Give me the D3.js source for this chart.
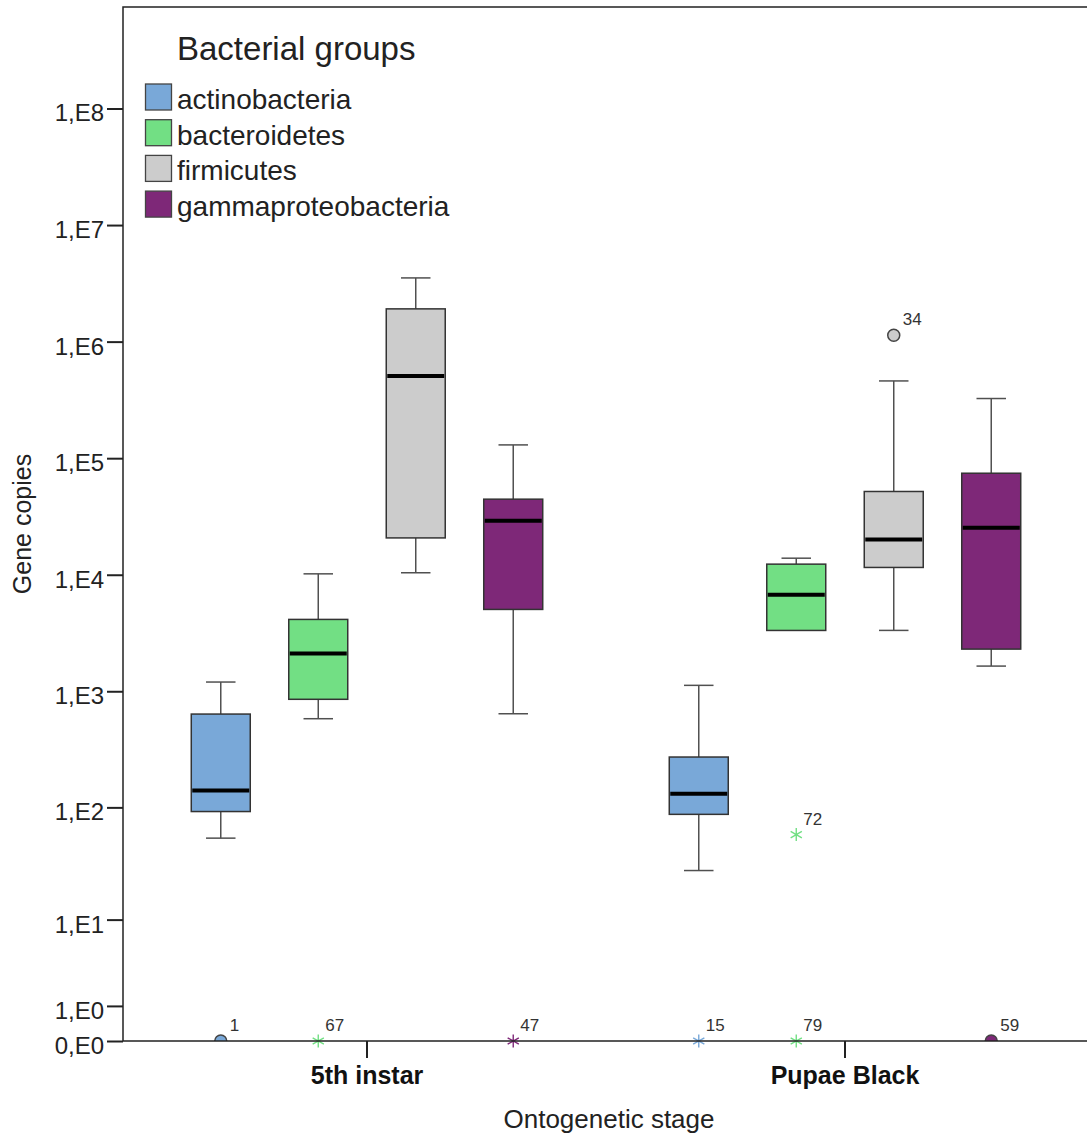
<!DOCTYPE html>
<html><head><meta charset="utf-8">
<script src="https://cdn.jsdelivr.net/npm/d3@7"></script>
<style>
body{margin:0;background:#fff}
text{font-family:"Liberation Sans",Arial,sans-serif}
</style>
</head><body><svg id="c" width="1087" height="1135"></svg>
<script>
// ---------- data ----------
const stages = ["5th instar", "Pupae Black"];
const groups = ["actinobacteria", "bacteroidetes", "firmicutes", "gammaproteobacteria"];
const groupColors = ["#79a8d8", "#72df84", "#cccccc", "#7e2878"];
// box statistics, indexed [group][stage]
const whiskerLow  = [[54, 28], [581, 3327], [10400, 3330], [641, 1645]];
const q1          = [[92, 87], [853, 3327], [20700, 11550], [5040, 2301]];
const median      = [[140, 131], [2113, 6726], [508000, 20100], [29000, 25300]];
const q3          = [[637, 272], [4137, 12330], [1910000, 51800], [44500, 74300]];
const whiskerHigh = [[1200, 1124], [10180, 13870], [3520000, 460000], [130000, 325000]];
// outliers / extremes
const outlierStage = [0, 0, 0, 1, 1, 1, 1, 1];
const outlierGroup = [0, 1, 3, 0, 1, 1, 2, 3];
const outlierValue = [0, 0, 0, 0, 0, 58, 1135000, 0];
const outlierLabel = ["1", "67", "47", "15", "79", "72", "34", "59"];
const outlierKind  = ["circle", "star", "star", "star", "star", "star", "circle", "circle"];
// axis ticks
const yTickValues = [0, 1, 10, 100, 1e3, 1e4, 1e5, 1e6, 1e7, 1e8];
const yTickLabels = ["0,E0", "1,E0", "1,E1", "1,E2", "1,E3", "1,E4", "1,E5", "1,E6", "1,E7", "1,E8"];
const yTitle = "Gene copies";
const xTitle = "Ontogenetic stage";
const legendTitle = "Bacterial groups";

// ---------- layout ----------
const W = 1087, H = 1135;
const plotL = 123, plotT = 7, plotR = 1087, plotB = 1041;
const svg = d3.select("#c");

const y = d3.scaleSymlog().constant(1).domain([0, 1e8]).range([plotB, 108.5]);
const x0 = d3.scaleBand().domain(stages).range([128, 1084]);
const x1 = d3.scaleBand().domain(groups).range([0, x0.bandwidth()])
  .paddingInner(0.395).paddingOuter(0.649);
const bw = x1.bandwidth();
const cx = (s, g) => x0(stages[s]) + x1(groups[g]) + bw / 2;

svg.append("defs").append("clipPath").attr("id", "plotclip")
  .append("rect").attr("x", plotL).attr("y", plotT)
  .attr("width", plotR - plotL).attr("height", plotB - plotT);

// ---------- boxes ----------
const boxData = [];
groups.forEach((g, gi) => stages.forEach((s, si) => boxData.push({gi, si})));
const boxes = svg.append("g").selectAll("g").data(boxData).join("g");
const whiskerColor = "#505050";
boxes.append("line")
  .attr("x1", d => cx(d.si, d.gi)).attr("x2", d => cx(d.si, d.gi))
  .attr("y1", d => y(whiskerHigh[d.gi][d.si])).attr("y2", d => y(q3[d.gi][d.si]))
  .attr("stroke", whiskerColor).attr("stroke-width", 1.5);
boxes.append("line")
  .attr("x1", d => cx(d.si, d.gi)).attr("x2", d => cx(d.si, d.gi))
  .attr("y1", d => y(q1[d.gi][d.si])).attr("y2", d => y(whiskerLow[d.gi][d.si]))
  .attr("stroke", whiskerColor).attr("stroke-width", 1.5);
boxes.append("line")
  .attr("x1", d => cx(d.si, d.gi) - bw / 4).attr("x2", d => cx(d.si, d.gi) + bw / 4)
  .attr("y1", d => y(whiskerHigh[d.gi][d.si])).attr("y2", d => y(whiskerHigh[d.gi][d.si]))
  .attr("stroke", whiskerColor).attr("stroke-width", 1.5);
boxes.filter(d => whiskerLow[d.gi][d.si] < q1[d.gi][d.si]).append("line")
  .attr("x1", d => cx(d.si, d.gi) - bw / 4).attr("x2", d => cx(d.si, d.gi) + bw / 4)
  .attr("y1", d => y(whiskerLow[d.gi][d.si])).attr("y2", d => y(whiskerLow[d.gi][d.si]))
  .attr("stroke", whiskerColor).attr("stroke-width", 1.5);
boxes.append("rect")
  .attr("x", d => cx(d.si, d.gi) - bw / 2).attr("width", bw)
  .attr("y", d => y(q3[d.gi][d.si]))
  .attr("height", d => y(q1[d.gi][d.si]) - y(q3[d.gi][d.si]))
  .attr("fill", d => groupColors[d.gi]).attr("stroke", "#333").attr("stroke-width", 1.5);
boxes.append("line")
  .attr("x1", d => cx(d.si, d.gi) - bw / 2 + 1).attr("x2", d => cx(d.si, d.gi) + bw / 2 - 1)
  .attr("y1", d => y(median[d.gi][d.si])).attr("y2", d => y(median[d.gi][d.si]))
  .attr("stroke", "#000").attr("stroke-width", 4);

// ---------- outliers ----------
const outIdx = d3.range(outlierValue.length);
const outG = svg.append("g");
outG.append("g").attr("clip-path", "url(#plotclip)")
  .selectAll("circle").data(outIdx.filter(i => outlierKind[i] === "circle")).join("circle")
  .attr("cx", i => cx(outlierStage[i], outlierGroup[i]))
  .attr("cy", i => y(outlierValue[i]))
  .attr("r", 6)
  .attr("fill", i => groupColors[outlierGroup[i]])
  .attr("stroke", "#444").attr("stroke-width", 1.5);
const starPath = "M0,-6.5L0,6.5M-5.6,-3.2L5.6,3.2M-5.6,3.2L5.6,-3.2";
outG.selectAll("path.star").data(outIdx.filter(i => outlierKind[i] === "star")).join("path")
  .attr("class", "star")
  .attr("transform", i => `translate(${cx(outlierStage[i], outlierGroup[i])},${y(outlierValue[i])})`)
  .attr("d", starPath)
  .attr("fill", "none")
  .attr("stroke", i => groupColors[outlierGroup[i]]).attr("stroke-width", 1.4);
outG.selectAll("text").data(outIdx).join("text")
  .attr("x", i => cx(outlierStage[i], outlierGroup[i]) + (outlierKind[i] === "circle" ? 9 : 7))
  .attr("y", i => y(outlierValue[i]) - 10)
  .attr("font-size", 17).attr("fill", "#333")
  .text(i => outlierLabel[i]);

// ---------- axes & frame ----------
const yAxis = svg.append("g").attr("transform", `translate(${plotL},0)`)
  .call(d3.axisLeft(y).tickValues(yTickValues).tickFormat((d, i) => yTickLabels[i])
    .tickSize(16).tickSizeOuter(0).tickPadding(3));
yAxis.select(".domain").remove();
yAxis.selectAll(".tick line").attr("stroke", "#222").attr("stroke-width", 2);
yAxis.selectAll(".tick text").attr("font-size", 24).attr("fill", "#222")
  .attr("font-family", "Liberation Sans, Arial, sans-serif").attr("dy", "0.52em");

const xAxis = svg.append("g").attr("transform", `translate(0,${plotB})`)
  .call(d3.axisBottom(x0).tickSize(17).tickSizeOuter(0).tickPadding(8));
xAxis.select(".domain").remove();
xAxis.selectAll(".tick line").attr("stroke", "#222").attr("stroke-width", 2);
xAxis.selectAll(".tick text").attr("font-size", 25).attr("font-weight", "bold").attr("fill", "#111")
  .attr("font-family", "Liberation Sans, Arial, sans-serif");

svg.append("path")
  .attr("d", `M${plotR},${plotT}H${plotL}V${plotB}H${plotR}`)
  .attr("fill", "none").attr("stroke", "#222").attr("stroke-width", 1.5);

svg.append("text").attr("transform", `translate(31,524) rotate(-90)`)
  .attr("text-anchor", "middle").attr("font-size", 25).attr("fill", "#222").text(yTitle);
svg.append("text").attr("x", 609).attr("y", 1128)
  .attr("text-anchor", "middle").attr("font-size", 26).attr("fill", "#222").text(xTitle);

// ---------- legend ----------
const lg = svg.append("g");
lg.append("text").attr("x", 177).attr("y", 60).attr("font-size", 33).attr("fill", "#222").text(legendTitle);
const li = lg.selectAll("g.item").data(groups).join("g").attr("class", "item")
  .attr("transform", (d, i) => `translate(145,${83.5 + i * 35.7})`);
li.append("rect").attr("x", 0.5).attr("y", 0.5).attr("width", 26).attr("height", 26)
  .attr("fill", (d, i) => groupColors[i]).attr("stroke", "#444").attr("stroke-width", 1.3);
li.append("text").attr("x", 32).attr("y", 25.5).attr("font-size", 28).attr("fill", "#222").text(d => d);
</script></body></html>
